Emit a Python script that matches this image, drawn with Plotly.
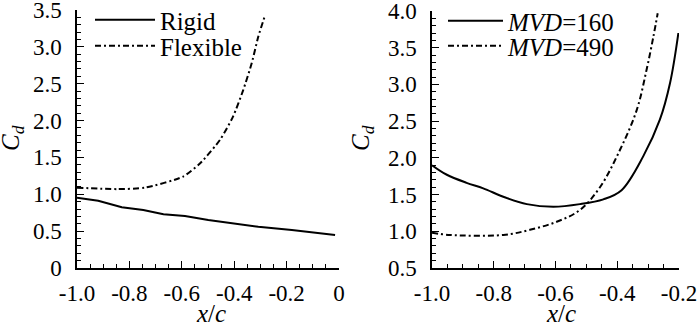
import plotly.graph_objects as go

# ---- data (left panel) ----
rigid_x = [-1.0, -0.919, -0.829, -0.747, -0.67, -0.588, -0.499, -0.41, -0.308, -0.18, -0.015]
rigid_y = [0.954, 0.913, 0.823, 0.787, 0.728, 0.706, 0.651, 0.606, 0.56, 0.516, 0.448]
flex_x = [-1.0, -0.844, -0.74, -0.595, -0.53, -0.454, -0.405, -0.366, -0.333, -0.308, -0.282]
flex_y = [1.09, 1.07, 1.09, 1.24, 1.42, 1.74, 2.05, 2.41, 2.78, 3.14, 3.43]

# ---- data (right panel) ----
mvd160_x = [-1.0, -0.952, -0.888, -0.834, -0.769, -0.693, -0.607, -0.521, -0.445, -0.386, -0.316, -0.262, -0.229, -0.202]
mvd160_y = [1.90, 1.77, 1.66, 1.585, 1.47, 1.37, 1.335, 1.37, 1.435, 1.56, 2.02, 2.52, 3.02, 3.70]
mvd490_x = [-1.0, -0.942, -0.769, -0.683, -0.596, -0.521, -0.456, -0.391, -0.337, -0.305, -0.283, -0.269]
mvd490_y = [0.98, 0.95, 0.95, 1.02, 1.13, 1.29, 1.60, 2.11, 2.65, 3.2, 3.65, 3.97]

# ---- tick labels ----
left_xtickvals = [-1.0, -0.8, -0.6, -0.4, -0.2, 0.0]
left_xticktext = ["-1.0", "-0.8", "-0.6", "-0.4", "-0.2", "0"]
left_ytickvals = [0, 0.5, 1.0, 1.5, 2.0, 2.5, 3.0, 3.5]
left_yticktext = ["0", "0.5", "1.0", "1.5", "2.0", "2.5", "3.0", "3.5"]
right_xtickvals = [-1.0, -0.8, -0.6, -0.4, -0.2]
right_xticktext = ["-1.0", "-0.8", "-0.6", "-0.4", "-0.2"]
right_ytickvals = [0.5, 1.0, 1.5, 2.0, 2.5, 3.0, 3.5, 4.0]
right_yticktext = ["0.5", "1.0", "1.5", "2.0", "2.5", "3.0", "3.5", "4.0"]

FONT = "Liberation Serif"
DASHDOT = "6px,3px,2px,3px"

fig = go.Figure()
fig.add_trace(go.Scatter(x=rigid_x, y=rigid_y, mode="lines", name="Rigid",
                         line=dict(color="black", width=2), xaxis="x", yaxis="y", legend="legend"))
fig.add_trace(go.Scatter(x=flex_x, y=flex_y, mode="lines", name="Flexible",
                         line=dict(color="black", width=2, dash=DASHDOT, shape="spline", smoothing=0.6),
                         xaxis="x", yaxis="y", legend="legend2"))
fig.add_trace(go.Scatter(x=mvd160_x, y=mvd160_y, mode="lines", name="<i>MVD</i>=160",
                         line=dict(color="black", width=2, shape="spline"), xaxis="x2", yaxis="y2", legend="legend3"))
fig.add_trace(go.Scatter(x=mvd490_x, y=mvd490_y, mode="lines", name="<i>MVD</i>=490",
                         line=dict(color="black", width=2, dash=DASHDOT, shape="spline"),
                         xaxis="x2", yaxis="y2", legend="legend4"))

W, H = 700, 323
def px(x): return x / W
def py(y): return 1 - y / H

axis_common = dict(showgrid=False, zeroline=False, showline=True, linecolor="black", linewidth=1.5,
                   ticks="inside", tickcolor="black", tickwidth=1.2, ticklen=7,
                   tickfont=dict(family=FONT, size=23, color="black"), mirror=False,
                   ticklabeloverflow="allow", automargin=False)
minor_style = dict(ticks="inside", ticklen=4, tickcolor="black", tickwidth=1)

def leg(x, ytop, width):
    return dict(x=px(x), y=py(ytop), xanchor="left", yanchor="top", bgcolor="rgba(0,0,0,0)",
                font=dict(family=FONT, size=25, color="black"), itemwidth=width, tracegroupgap=0)

fig.update_layout(
    template="none",
    width=W, height=H, margin=dict(l=0, r=0, t=0, b=0, autoexpand=False),
    paper_bgcolor="white", plot_bgcolor="white",
    font=dict(family=FONT, size=23, color="black"),
    xaxis=dict(domain=[px(77), px(339)], range=[-1.0, 0.0], anchor="y",
               tickmode="array", tickvals=left_xtickvals, ticktext=left_xticktext,
               minor=dict(dtick=0.05, **minor_style), ticklabelstandoff=4, **axis_common),
    yaxis=dict(domain=[py(268), py(10)], range=[0, 3.5], anchor="x",
               tickmode="array", tickvals=left_ytickvals, ticktext=left_yticktext,
               minor=dict(dtick=0.1, **minor_style), ticklabelstandoff=9, **axis_common),
    xaxis2=dict(domain=[px(432), px(679)], range=[-1.0, -0.2], anchor="y2",
                tickmode="array", tickvals=right_xtickvals, ticktext=right_xticktext,
                minor=dict(dtick=0.05, **minor_style), ticklabelstandoff=4, **axis_common),
    yaxis2=dict(domain=[py(268), py(11)], range=[0.5, 4.0], anchor="x2",
                tickmode="array", tickvals=right_ytickvals, ticktext=right_yticktext,
                minor=dict(dtick=0.1, **minor_style), ticklabelstandoff=9, **axis_common),
    legend=leg(90, -3, 60),
    legend2=leg(90, 23, 60),
    legend3=leg(443, -2, 55),
    legend4=leg(443, 23, 55),
    showlegend=True,
)

annots = [
    dict(x=px(12), y=py(138), text="<i>C</i><sub><i>d</i></sub>", textangle=-90),
    dict(x=px(362), y=py(138), text="<i>C</i><sub><i>d</i></sub>", textangle=-90),
    dict(x=px(211), y=py(313), text="<i>x</i>/<i>c</i>", textangle=0),
    dict(x=px(561), y=py(313), text="<i>x</i>/<i>c</i>", textangle=0),
]
for a in annots:
    fig.add_annotation(xref="paper", yref="paper", showarrow=False, xanchor="center", yanchor="middle",
                       font=dict(family=FONT, size=25, color="black"), **a)

fig.write_html("out.html", config={"displayModeBar": False},
               post_script="document.body.style.margin='0';document.body.style.overflow='hidden';")
